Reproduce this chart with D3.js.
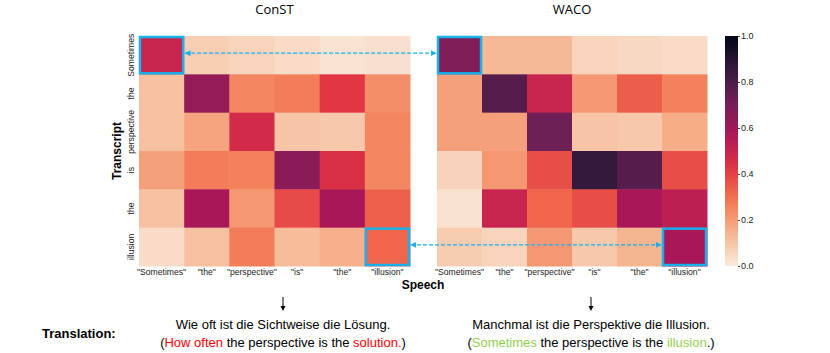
<!DOCTYPE html>
<html>
<head>
<meta charset="utf-8">
<script src="https://cdn.jsdelivr.net/npm/d3@7"></script>
<style>
  body { margin: 0; background: #fff; }
  svg text { font-family: "Liberation Sans", Arial, sans-serif; }
  .tick-lbl { font-size: 8.6px; fill: #222; }
  .note { font-family: "Liberation Sans Narrow", "Liberation Sans", sans-serif; font-size: 13px; }
</style>
</head>
<body>
<div id="chart"></div>
<script>
/////////////////////////////////////
///      DATA
/////////////////////////////////////
var speechTokens = ["\"Sometimes\"", "\"the\"", "\"perspective\"", "\"is\"", "\"the\"", "\"illusion\""];
var transcriptTokens = ["Sometimes", "the", "perspective", "is", "the", "illusion"];
var panelTitles = ["ConST", "WACO"];

var constValues = [
  [0.50, 0.075, 0.06, 0.04, 0.02, 0.03],
  [0.11, 0.63, 0.25, 0.27, 0.42, 0.23],
  [0.11, 0.18, 0.47, 0.10, 0.09, 0.25],
  [0.19, 0.27, 0.26, 0.65, 0.45, 0.25],
  [0.11, 0.58, 0.21, 0.38, 0.58, 0.33],
  [0.04, 0.11, 0.27, 0.12, 0.15, 0.32]
];
var wacoValues = [
  [0.68, 0.13, 0.13, 0.06, 0.05, 0.04],
  [0.19, 0.78, 0.50, 0.21, 0.34, 0.26],
  [0.19, 0.19, 0.72, 0.10, 0.09, 0.16],
  [0.065, 0.21, 0.37, 0.86, 0.78, 0.37],
  [0.025, 0.50, 0.32, 0.37, 0.58, 0.53],
  [0.08, 0.06, 0.21, 0.09, 0.14, 0.58]
];
var colorbarTicks = [0.0, 0.2, 0.4, 0.6, 0.8, 1.0];
// highlighted cells [row, col]
var highlights = [[0, 0], [5, 5]];

// seaborn "rocket" reversed
var rocketStops = ["#faebdd", "#f6b48f", "#f37651", "#e13342", "#ad1759", "#701f57", "#35193e", "#03051a"];
var rocketPos = [0, 1/7, 2/7, 3/7, 4/7, 5/7, 6/7, 1];

/////////////////////////////////////
///      LAYOUT
/////////////////////////////////////
var width = 830, height = 353;
var top0 = 36, bottom0 = 266;
var panelX = [[139, 410], [437, 707]];
var blue = "#19b0ea";

var color = d3.scaleLinear().domain(rocketPos).range(rocketStops).interpolate(d3.interpolateRgb).clamp(true);

var svg = d3.select("#chart").append("svg")
  .attr("width", width).attr("height", height);

var defs = svg.append("defs");
defs.append("marker").attr("id", "ah")
  .attr("viewBox", "0 0 10 10").attr("refX", 9).attr("refY", 5)
  .attr("markerWidth", 5).attr("markerHeight", 5).attr("orient", "auto-start-reverse")
  .append("path").attr("d", "M0,0 L10,5 L0,10 z").attr("fill", blue);

var y = d3.scaleBand().domain(d3.range(transcriptTokens.length)).range([top0, bottom0]);

function drawPanel(values, i) {
  var x = d3.scaleBand().domain(d3.range(speechTokens.length)).range(panelX[i]);
  var g = svg.append("g");
  values.forEach(function(row, r) {
    g.selectAll(null).data(row).enter().append("rect")
      .attr("x", function(d, c) { return x(c); })
      .attr("y", y(r))
      .attr("width", x.bandwidth() + 0.5)
      .attr("height", y.bandwidth() + 0.5)
      .attr("fill", function(d) { return color(d); });
  });
  // x tick labels
  g.selectAll(null).data(speechTokens).enter().append("text")
    .attr("class", "tick-lbl")
    .attr("x", function(d, c) { return x(c) + x.bandwidth() / 2; })
    .attr("y", bottom0 + 9)
    .attr("text-anchor", "middle")
    .text(function(d) { return d; });
  // title
  svg.append("text")
    .attr("x", (panelX[i][0] + panelX[i][1]) / 2).attr("y", 14)
    .attr("text-anchor", "middle")
    .style("font-family", "'Open Sans', sans-serif")
    .style("font-size", "13px")
    .text(panelTitles[i]);
  // highlight boxes
  g.selectAll(null).data(highlights).enter().append("rect")
    .attr("x", function(d) { return x(d[1]) + 1; })
    .attr("y", function(d) { return y(d[0]) + 1; })
    .attr("width", x.bandwidth() - 2)
    .attr("height", y.bandwidth() - 2)
    .attr("fill", "none")
    .attr("stroke", blue)
    .attr("stroke-width", 2.5);
  return x;
}

var xs = [drawPanel(constValues, 0), drawPanel(wacoValues, 1)];

// y tick labels (rotated)
svg.selectAll(null).data(transcriptTokens).enter().append("text")
  .attr("class", "tick-lbl")
  .attr("transform", function(d, r) { return "translate(134," + (y(r) + y.bandwidth() / 2) + ") rotate(-90)"; })
  .attr("text-anchor", "middle")
  .text(function(d) { return d; });

svg.append("text")
  .attr("transform", "translate(121," + ((top0 + bottom0) / 2) + ") rotate(-90)")
  .attr("text-anchor", "middle")
  .style("font-size", "12px").style("font-weight", "bold")
  .text("Transcript");

svg.append("text")
  .attr("x", 423).attr("y", 289)
  .attr("text-anchor", "middle")
  .style("font-size", "12px").style("font-weight", "bold")
  .text("Speech");

// dashed connectors between highlighted cells
var rTop = y(0) + y.bandwidth() / 2 - 2, rBot = y(5) + y.bandwidth() / 2 - 2;
[[0, rTop], [5, rBot]].forEach(function(c) {
  svg.append("line")
    .attr("x1", xs[0](c[0]) + xs[0].bandwidth() + 1).attr("x2", xs[1](c[0]) - 1)
    .attr("y1", c[1]).attr("y2", c[1])
    .attr("stroke", blue).attr("stroke-width", 1.2).attr("stroke-dasharray", "4,2")
    .attr("marker-start", "url(#ah)").attr("marker-end", "url(#ah)");
});

/////////////////////////////////////
///      COLORBAR
/////////////////////////////////////
var cbX = 725, cbW = 13;
var cy = d3.scaleLinear().domain([0, 1]).range([bottom0, top0]);
var grad = defs.append("linearGradient").attr("id", "cbgrad")
  .attr("x1", 0).attr("y1", 1).attr("x2", 0).attr("y2", 0);
d3.range(0, 1.0001, 0.05).forEach(function(t) {
  grad.append("stop").attr("offset", t).attr("stop-color", color(t));
});
svg.append("rect").attr("x", cbX).attr("y", top0).attr("width", cbW).attr("height", bottom0 - top0)
  .attr("fill", "url(#cbgrad)");
var cbAxis = svg.append("g").attr("transform", "translate(" + (cbX + cbW) + ",0)")
  .call(d3.axisRight(cy).tickValues(colorbarTicks).tickFormat(d3.format(".1f")).tickSize(2).tickPadding(1));
cbAxis.select(".domain").remove();
cbAxis.selectAll("text").style("font-size", "9px").attr("fill", "#222");
cbAxis.selectAll("line").attr("stroke", "#444");

/////////////////////////////////////
///      TRANSLATIONS
/////////////////////////////////////
var centers = [283, 591];
centers.forEach(function(cx) {
  svg.append("line").attr("x1", cx).attr("x2", cx).attr("y1", 297).attr("y2", 309)
    .attr("stroke", "#000").attr("stroke-width", 1);
  svg.append("path").attr("d", "M" + (cx - 2.5) + ",306 L" + cx + ",311 L" + (cx + 2.5) + ",306 z").attr("fill", "#000");
});

svg.append("text").attr("class", "note")
  .attr("x", 42).attr("y", 338)
  .style("font-weight", "bold")
  .text("Translation:");

var lines = [
  { cx: centers[0], main: "Wie oft ist die Sichtweise die Lösung.",
    parts: [["(", "#000"], ["How often", "#ff0000"], [" the perspective is the ", "#000"], ["solution.", "#ff0000"], [")", "#000"]] },
  { cx: centers[1], main: "Manchmal ist die Perspektive die Illusion.",
    parts: [["(", "#000"], ["Sometimes", "#92d050"], [" the perspective is the ", "#000"], ["illusion", "#92d050"], [".)", "#000"]] }
];
lines.forEach(function(l) {
  svg.append("text").attr("class", "note")
    .attr("x", l.cx).attr("y", 329).attr("text-anchor", "middle")
    .text(l.main);
  var t = svg.append("text").attr("class", "note")
    .attr("x", l.cx).attr("y", 347).attr("text-anchor", "middle");
  l.parts.forEach(function(p) {
    t.append("tspan").attr("fill", p[1]).text(p[0]);
  });
});
</script>
</body>
</html>
